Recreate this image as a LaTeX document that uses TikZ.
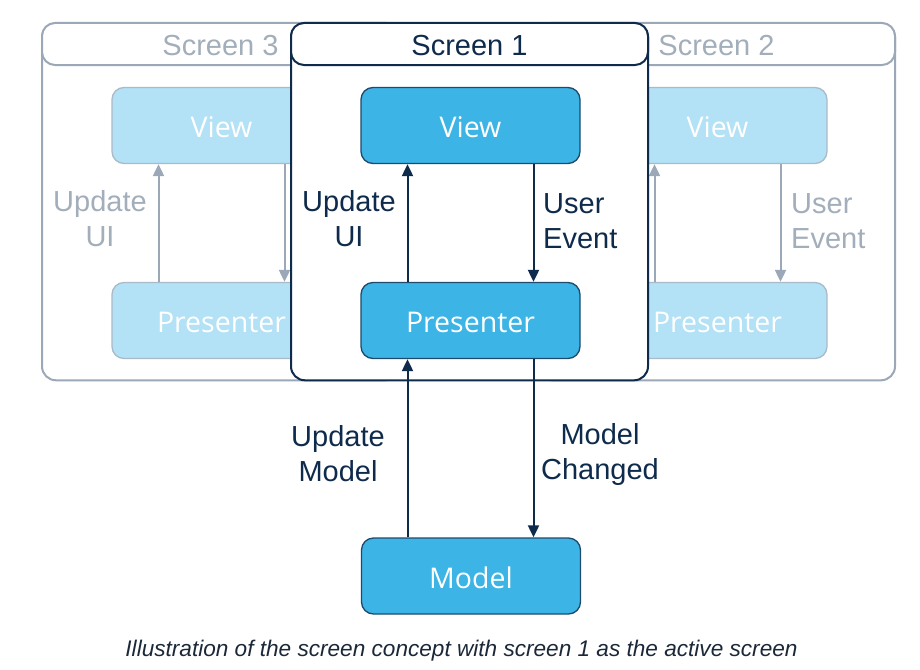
\documentclass[tikz,border=0pt]{standalone}
\usepackage{fontspec}
\setmainfont{Liberation Sans}
\newfontfamily\boxfont{Open Sans}
\usetikzlibrary{arrows.meta}
\definecolor{navy}{HTML}{0F2B4C}
\definecolor{actfill}{HTML}{3CB4E5}
\definecolor{actdraw}{HTML}{1E4A6E}
\definecolor{inafill}{HTML}{B3E1F5}
\definecolor{inadraw}{HTML}{A9BBC9}
\definecolor{grayline}{HTML}{9BA8B7}
\definecolor{graytext}{HTML}{A3AEBB}
\definecolor{captext}{HTML}{1B2838}
\newcommand{\lowtxt}[1]{\raisebox{-2pt}[\height][\depth]{#1}}
\tikzset{
  big/.style={font=\fontsize{29}{35}\selectfont},
  screenbox/.style={draw, fill=white, line width=2pt, rounded corners=14pt, minimum width=357pt, minimum height=357pt, inner sep=0pt},
  headbox/.style={draw, fill=white, line width=2pt, rounded corners=13pt, minimum width=357pt, minimum height=42pt, inner sep=0pt, big},
  actbox/.style={draw=actdraw, fill=actfill, line width=1.3pt, rounded corners=12pt, minimum width=219pt, minimum height=76pt, inner sep=0pt, text=white, font=\boxfont\fontsize{28.5}{34}\selectfont},
  inabox/.style={actbox, draw=inadraw, fill=inafill},
  actarrow/.style={draw=navy, line width=2pt, -{Triangle[width=11pt,length=12pt]}},
  inaarrow/.style={draw=grayline, line width=2pt, -{Triangle[width=11pt,length=12pt]}},
  actlabel/.style={big, text=navy, align=center, inner sep=0pt},
  inalabel/.style={big, text=graytext, align=center, inner sep=0pt},
}
\begin{document}
\begin{tikzpicture}[x=1pt,y=-1pt]
\useasboundingbox (0,0) rectangle (920,669);
% Screen 3 (inactive, left)
\node[screenbox, draw=grayline] (s3) at (220.5,201.8) {};
\node[headbox, draw=grayline, text=graytext] (h3) at (220.5,44) {\lowtxt{Screen 3}};
\node[inabox] (v3) at (221.5,125.5) {\lowtxt{View}};
\node[inabox] (p3) at (221.5,320.5) {\lowtxt{Presenter}};
\draw[inaarrow] ([xshift=-63pt]p3.north) -- ([xshift=-63pt]v3.south);
\draw[inaarrow] ([xshift=63pt]v3.south) -- ([xshift=63pt]p3.north);
\node[inalabel] (l3) at (100,219) {Update\\UI};
% Screen 2 (inactive, right)
\node[screenbox, draw=grayline] (s2) at (716.5,201.8) {};
\node[headbox, draw=grayline, text=graytext] (h2) at (716.5,44) {\lowtxt{Screen 2}};
\node[inabox] (v2) at (717.5,125.5) {\lowtxt{View}};
\node[inabox] (p2) at (717.5,320.5) {\lowtxt{Presenter}};
\draw[inaarrow] ([xshift=-63pt]p2.north) -- ([xshift=-63pt]v2.south);
\draw[inaarrow] ([xshift=63pt]v2.south) -- ([xshift=63pt]p2.north);
\node[inalabel, anchor=west, align=left] (l2) at (791,221) {User\\Event};
% Screen 1 (active)
\node[screenbox, draw=navy] (s1) at (469.5,201.8) {};
\node[headbox, draw=navy, text=navy] (h1) at (469.5,44) {\lowtxt{Screen 1}};
\node[actbox] (v1) at (470.5,125.5) {\lowtxt{View}};
\node[actbox] (p1) at (470.5,320.5) {\lowtxt{Presenter}};
\node[actbox] (m) at (471,576) {\lowtxt{Model}};
\draw[actarrow] ([xshift=-63pt]p1.north) -- ([xshift=-63pt]v1.south);
\draw[actarrow] ([xshift=63pt]v1.south) -- ([xshift=63pt]p1.north);
\draw[actarrow] ([xshift=-63pt]p1.south |- m.north) -- ([xshift=-63pt]p1.south);
\draw[actarrow] ([xshift=63pt]p1.south) -- ([xshift=63pt]p1.south |- m.north);
\node[actlabel] (l1a) at (349,219) {Update\\UI};
\node[actlabel, anchor=west, align=left] (l1b) at (543,221) {User\\Event};
\node[actlabel] (lm1) at (338,454) {Update\\Model};
\node[actlabel] (lm2) at (600,454) {Model\\Changed};
% caption
\node[text=captext, font=\itshape\fontsize{22.6}{26}\selectfont, inner sep=0pt] (cap) at (461.5,651) {Illustration of the screen concept with screen 1 as the active screen};
\end{tikzpicture}
\end{document}
